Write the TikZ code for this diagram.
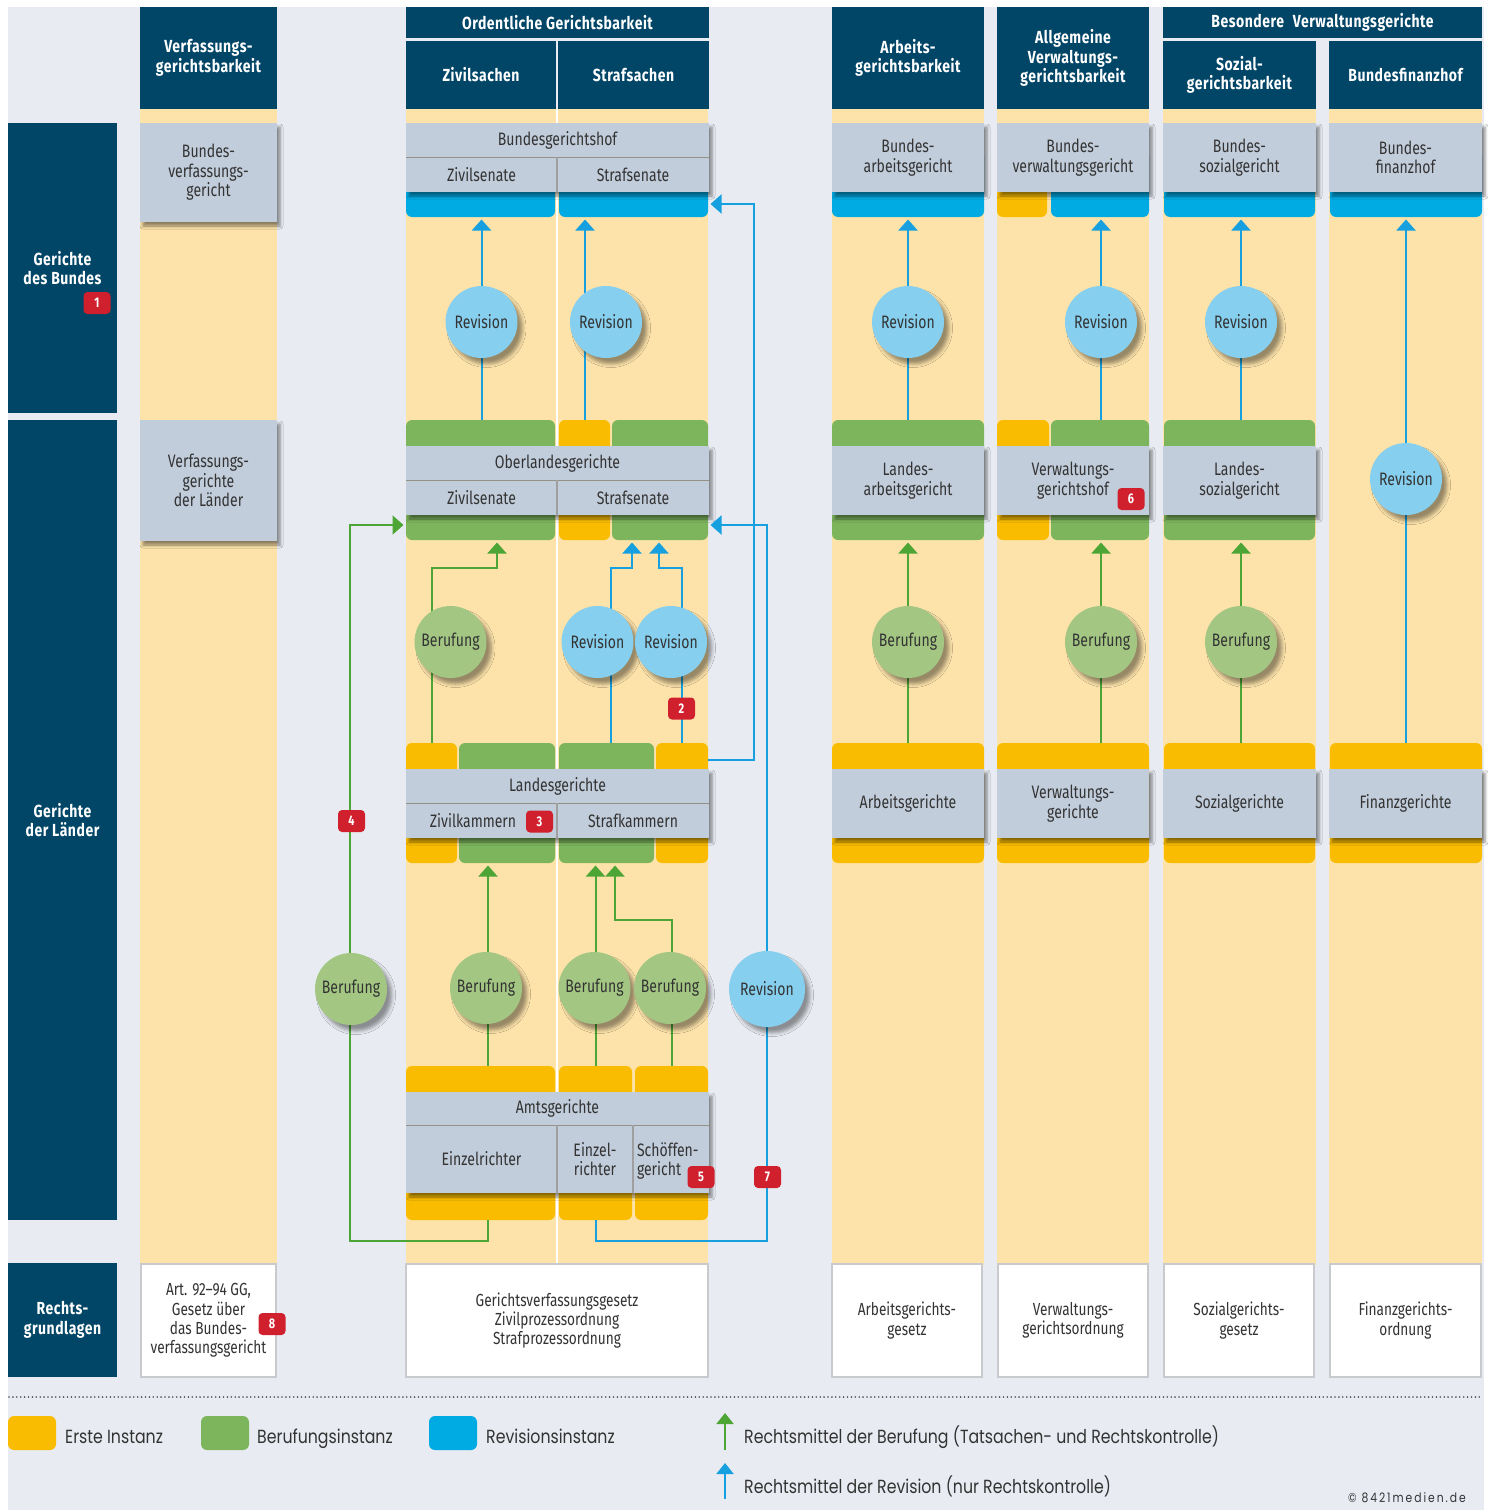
\documentclass[tikz,border=0pt]{standalone}
\usepackage{fontspec}
\setmainfont{Fira Sans}[FakeStretch=0.78]
\newfontfamily\hdrfont{Fira Sans}[FakeStretch=0.8, LetterSpace=3]
\newfontfamily\legfont{Poppins}[FakeStretch=0.83]
\usetikzlibrary{arrows.meta,shadows.blur}
\definecolor{dkblue}{RGB}{1,69,103}
\definecolor{colfill}{RGB}{253,227,170}
\definecolor{bggray}{RGB}{232,236,242}
\definecolor{boxgray}{RGB}{194,205,219}
\definecolor{yel}{RGB}{249,188,0}
\definecolor{grn}{RGB}{125,181,93}
\definecolor{blu}{RGB}{0,170,226}
\definecolor{berc}{RGB}{163,199,131}
\definecolor{revc}{RGB}{134,207,238}
\definecolor{gline}{RGB}{76,165,53}
\definecolor{bline}{RGB}{22,160,223}
\definecolor{badgered}{RGB}{208,32,46}
\definecolor{txt}{RGB}{51,51,51}
\definecolor{lawgray}{RGB}{200,202,206}
\definecolor{sepcol}{RGB}{150,145,135}
\newcommand{\Rbox}[7]{\node[#2,minimum width={(#5-#3)*1pt},minimum height={(#6-#4)*1pt}] (#1) at ({(#3+#5)/2},{(#4+#6)/2}) {#7};}
\tikzset{
 base/.style={rectangle, inner sep=0pt, outer sep=0pt},
 hdr/.style={base, fill=dkblue, text=white, align=center, font=\hdrfont\bfseries\fontsize{17.5}{19.5}\selectfont},
 col/.style={base, fill=colfill},
 bar/.style={base, rounded corners=6pt},
 ybar/.style={bar, fill=yel},
 gbar/.style={bar, fill=grn},
 bbar/.style={bar, fill=blu},
 court/.style={base, fill=boxgray, blur shadow={shadow xshift=3pt, shadow yshift=-4pt, shadow blur radius=3pt, shadow opacity=45}},
 ctext/.style={base, text=txt, align=center, font=\fontsize{18}{19.5}\selectfont},
 law/.style={base, fill=white, draw=lawgray, line width=1.5pt, text=txt, align=center, font=\fontsize{17.5}{19.3}\selectfont},
 circ/.style={circle, inner sep=0pt, minimum size=72pt, text=txt, font=\fontsize{18}{19}\selectfont, blur shadow={shadow xshift=5pt, shadow yshift=-6pt, shadow blur radius=3.5pt, shadow opacity=40}},
 ber/.style={circ, fill=berc},
 rev/.style={circ, fill=revc},
 badge/.style={base, fill=badgered, rounded corners=4pt, minimum width=27pt, minimum height=22pt, text=white, font=\bfseries\fontsize{14}{14}\selectfont},
 garrow/.style={draw=gline, line width=2pt, -{Triangle[width=19pt,length=11pt]}, shorten >=2.5pt},
 barrow/.style={draw=bline, line width=2pt, -{Triangle[width=19pt,length=11pt]}, shorten >=2.5pt},
 sepH/.style={draw=sepcol, line width=0.8pt},
 sepV/.style={draw=gray!75, line width=1.6pt},
 legtext/.style={anchor=base west, inner sep=0pt, text=txt, font=\legfont\fontsize{19}{21}\selectfont},
}
\begin{document}
\begin{tikzpicture}[x=1pt,y=-1pt]
\useasboundingbox (0,0) rectangle (1488,1510);
\fill[white] (0,0) rectangle (1488,1510);
\fill[bggray] (8,7) rectangle (1484,1510);
% columns
\Rbox{colV}{col}{140}{109}{277}{1265}{}
\Rbox{colO}{col}{406}{109}{708}{1265}{}
\draw[white, line width=2pt] (colO.north) -- (colO.south);
\Rbox{colA}{col}{832}{109}{984}{1265}{}
\Rbox{colAV}{col}{997}{109}{1149}{1265}{}
\Rbox{colS}{col}{1163}{109}{1316}{1265}{}
\Rbox{colF}{col}{1329}{109}{1482}{1265}{}
% column headers
\Rbox{hV}{hdr}{140}{7}{277}{109}{Verfassungs-\\gerichtsbarkeit}
\Rbox{hO}{hdr}{406}{7}{709}{38}{Ordentliche Gerichtsbarkeit}
\Rbox{hOZ}{hdr}{406}{41}{556}{109}{Zivilsachen}
\Rbox{hOS}{hdr}{558}{41}{709}{109}{Strafsachen}
\Rbox{hA}{hdr}{832}{7}{984}{109}{Arbeits-\\gerichtsbarkeit}
\Rbox{hAV}{hdr}{997}{7}{1149}{109}{Allgemeine\\Verwaltungs-\\gerichtsbarkeit}
\Rbox{hB}{hdr}{1163}{7}{1482}{38}{Besondere\hspace{5pt} Verwaltungsgerichte}
\Rbox{hS}{hdr}{1163}{41}{1316}{109}{Sozial-\\gerichtsbarkeit}
\Rbox{hF}{hdr}{1329}{41}{1482}{109}{Bundesfinanzhof}
% row headers
\Rbox{rB}{hdr}{8}{123}{117}{413}{Gerichte\\des Bundes}
\Rbox{rL}{hdr}{8}{420}{117}{1220}{Gerichte\\der Länder}
\Rbox{rR}{hdr}{8}{1263}{117}{1377}{Rechts-\\grundlagen}
% ---- Bund
\Rbox{bverfg}{court,ctext}{140}{123}{277}{222}{Bundes-\\verfassungs-\\gericht}
\Rbox{bghZbar}{bbar}{406}{150}{555}{217}{}
\Rbox{bghSbar}{bbar}{559}{150}{708}{217}{}
\Rbox{bgh}{court}{406}{123}{709}{192}{}
\Rbox{bghH}{ctext}{406}{123}{709}{157}{Bundesgerichtshof}
\Rbox{bghZ}{ctext}{406}{157}{557}{192}{Zivilsenate}
\Rbox{bghS}{ctext}{557}{157}{709}{192}{Strafsenate}
\draw[sepH] (bghH.south west) -- (bghH.south east);
\draw[sepV] (bghZ.north east) -- (bghZ.south east);
\Rbox{bagbar}{bbar}{832}{150}{984}{217}{}
\Rbox{bag}{court,ctext}{832}{123}{984}{192}{Bundes-\\arbeitsgericht}
\Rbox{bvwgY}{ybar}{997}{150}{1047}{217}{}
\Rbox{bvwgB}{bbar}{1051}{150}{1149}{217}{}
\Rbox{bvwg}{court,ctext}{997}{123}{1149}{192}{Bundes-\\verwaltungsgericht}
\Rbox{bsgbar}{bbar}{1164}{150}{1315}{217}{}
\Rbox{bsg}{court,ctext}{1163}{123}{1316}{192}{Bundes-\\sozialgericht}
\Rbox{bfhbar}{bbar}{1330}{150}{1482}{217}{}
\Rbox{bfh}{court,ctext}{1329}{123}{1482}{192}{Bundes-\\finanzhof}
% ---- OLG level
\Rbox{lvg}{court,ctext}{140}{420}{277}{541}{Verfassungs-\\gerichte\\der Länder}
\Rbox{olgZbar}{gbar}{406}{420}{555}{540}{}
\Rbox{olgS1}{ybar}{559}{420}{610}{540}{}
\Rbox{olgS2}{gbar}{612}{420}{708}{540}{}
\Rbox{olg}{court}{406}{446}{709}{515}{}
\Rbox{olgH}{ctext}{406}{446}{709}{480}{Oberlandesgerichte}
\Rbox{olgZ}{ctext}{406}{480}{557}{515}{Zivilsenate}
\Rbox{olgS}{ctext}{557}{480}{709}{515}{Strafsenate}
\draw[sepH] (olgH.south west) -- (olgH.south east);
\draw[sepV] (olgZ.north east) -- (olgZ.south east);
\Rbox{lagbar}{gbar}{832}{420}{984}{540}{}
\Rbox{lag}{court,ctext}{832}{446}{984}{515}{Landes-\\arbeitsgericht}
\Rbox{vghY}{ybar}{997}{420}{1049}{540}{}
\Rbox{vghG}{gbar}{1051}{420}{1149}{540}{}
\Rbox{vgh}{court,ctext}{997}{446}{1149}{515}{Verwaltungs-\\gerichtshof}
\Rbox{lsgbar}{gbar}{1164}{420}{1315}{540}{}
\Rbox{lsg}{court,ctext}{1163}{446}{1316}{515}{Landes-\\sozialgericht}
% ---- LG level
\Rbox{lgZ1}{ybar}{406}{743}{457}{863}{}
\Rbox{lgZ2}{gbar}{459}{743}{555}{863}{}
\Rbox{lgS1}{gbar}{559}{743}{654}{863}{}
\Rbox{lgS2}{ybar}{656}{743}{708}{863}{}
\Rbox{lg}{court}{406}{769}{709}{838}{}
\Rbox{lgH}{ctext}{406}{769}{709}{803}{Landesgerichte}
\Rbox{lgZ}{ctext}{406}{803}{557}{838}{}
\node[ctext] (lgZt) at (473,821) {Zivilkammern};
\Rbox{lgS}{ctext}{557}{803}{709}{838}{Strafkammern}
\draw[sepH] (lgH.south west) -- (lgH.south east);
\draw[sepV] (lgZ.north east) -- (lgZ.south east);
\Rbox{arbgbar}{ybar}{832}{743}{984}{863}{}
\Rbox{arbg}{court,ctext}{832}{769}{984}{838}{Arbeitsgerichte}
\Rbox{vgbar}{ybar}{997}{743}{1149}{863}{}
\Rbox{vg}{court,ctext}{997}{769}{1149}{838}{Verwaltungs-\\gerichte}
\Rbox{sgbar}{ybar}{1164}{743}{1315}{863}{}
\Rbox{sg}{court,ctext}{1163}{769}{1316}{838}{Sozialgerichte}
\Rbox{fgbar}{ybar}{1330}{743}{1482}{863}{}
\Rbox{fg}{court,ctext}{1329}{769}{1482}{838}{Finanzgerichte}
% ---- AG level
\Rbox{agZ}{ybar}{406}{1066}{555}{1220}{}
\Rbox{agS1}{ybar}{559}{1066}{632}{1220}{}
\Rbox{agS2}{ybar}{635}{1066}{708}{1220}{}
\Rbox{ag}{court}{406}{1092}{709}{1193}{}
\Rbox{agH}{ctext}{406}{1092}{709}{1125}{Amtsgerichte}
\Rbox{agEZ}{ctext}{406}{1125}{557}{1193}{Einzelrichter}
\Rbox{agE}{ctext}{557}{1125}{633}{1193}{Einzel-\\richter}
\Rbox{agSch}{ctext}{633}{1125}{709}{1193}{}
\node[ctext, align=left, anchor=west] (agScht) at (637,1161) {Schöffen-\\gericht};
\draw[sepH] (agH.south west) -- (agH.south east);
\draw[sepV] (agEZ.north east) -- (agEZ.south east);
\draw[sepV] (agE.north east) -- (agE.south east);
% ---- legal bases
\Rbox{rgV}{law}{141}{1264}{276}{1377}{Art. 92–94 GG,\\Gesetz über\\das Bundes-\\verfassungsgericht}
\Rbox{rgO}{law}{406}{1264}{708}{1377}{Gerichtsverfassungsgesetz\\Zivilprozessordnung\\Strafprozessordnung}
\Rbox{rgA}{law}{832}{1264}{982}{1377}{Arbeitsgerichts-\\gesetz}
\Rbox{rgAV}{law}{998}{1264}{1148}{1377}{Verwaltungs-\\gerichtsordnung}
\Rbox{rgS}{law}{1164}{1264}{1314}{1377}{Sozialgerichts-\\gesetz}
\Rbox{rgF}{law}{1330}{1264}{1481}{1377}{Finanzgerichts-\\ordnung}
% ---- coordinates of circles / bends
\coordinate (cR1) at (481.5,322);
\coordinate (cR2) at (606,322);
\coordinate (xR2) at (585,322);
\coordinate (cR3) at (908,322);
\coordinate (cR4) at (1101,322);
\coordinate (cR5) at (1241,322);
\coordinate (cR6) at (1406,479);
\coordinate (cB1) at (450.5,642);
\coordinate (cRa) at (597.5,642);
\coordinate (cRb) at (671,642);
\coordinate (cBA) at (908,642);
\coordinate (cBV) at (1101,642);
\coordinate (cBS) at (1241,642);
\coordinate (cLB) at (351,989);
\coordinate (cZB) at (486,988);
\coordinate (cSB1) at (594.5,988);
\coordinate (cSB2) at (670,988);
\coordinate (cRV) at (767,989);
\coordinate (jz) at (497,568);
\coordinate (j1a) at (611,568);
\coordinate (j1b) at (632,568);
\coordinate (j2b) at (659,568);
\coordinate (xz) at (488,900);
\coordinate (j3a) at (672,920);
\coordinate (j3b) at (615,920);
\coordinate (p1) at (488,1241);
\coordinate (p2) at (350,525);
\coordinate (p3) at (596,1241);
\coordinate (p4) at (767,525);
\coordinate (q1) at (754,760);
\coordinate (q2) at (754,204);
% ---- connectors: Revision to federal courts
\draw[barrow] (olgZbar.north -| cR1) -- (bghZbar.south -| cR1);
\draw[barrow] (olgS1.north -| xR2) -- (bghSbar.south -| xR2);
\draw[barrow] (lagbar.north -| cR3) -- (bagbar.south -| cR3);
\draw[barrow] (vghG.north -| cR4) -- (bvwgB.south -| cR4);
\draw[barrow] (lsgbar.north -| cR5) -- (bsgbar.south -| cR5);
\draw[barrow] (fgbar.north -| cR6) -- (bfhbar.south -| cR6);
% ---- connectors: LG level to OLG level
\draw[garrow] (lgZ1.north) |- (jz) -- (jz |- olgZbar.south);
\draw[barrow] (lgS1.north -| j1a) -- (j1a) -- (j1b) -- (j1b |- olgS2.south);
\draw[barrow] (lgS2.north) |- (j2b) -- (j2b |- olgS2.south);
\draw[garrow] (arbgbar.north -| cBA) -- (lagbar.south -| cBA);
\draw[garrow] (vgbar.north -| cBV) -- (vghG.south -| cBV);
\draw[garrow] (sgbar.north -| cBS) -- (lsgbar.south -| cBS);
% ---- connectors: AG level upward
\draw[garrow] (agZ.north -| xz) -- (lgZ2.south -| xz);
\draw[garrow] (agS1.north) -- (agS1.north |- lgS1.south);
\draw[garrow] (agS2.north -| j3a) -- (j3a) -- (j3b) -- (j3b |- lgS1.south);
\draw[garrow] (agZ.south -| p1) -- (p1) -| (p2) -- (olgZbar.west |- p2);
\draw[barrow] (agS1.south -| p3) -- (p3) -| (p4) -- (olgS2.east |- p4);
\draw[barrow] (lgS2.east |- q1) -- (q1) -- (q2) -- (bghSbar.east |- q2);
% ---- circles
\node[rev] (R1) at (cR1) {Revision};
\node[rev] (R2) at (cR2) {Revision};
\node[rev] (R3) at (cR3) {Revision};
\node[rev] (R4) at (cR4) {Revision};
\node[rev] (R5) at (cR5) {Revision};
\node[rev] (R6) at (cR6) {Revision};
\node[ber] (B1) at (cB1) {Berufung};
\node[rev] (Ra) at (cRa) {Revision};
\node[rev] (Rb) at (cRb) {Revision};
\node[ber] (BA) at (cBA) {Berufung};
\node[ber] (BV) at (cBV) {Berufung};
\node[ber] (BS) at (cBS) {Berufung};
\node[ber] (LB) at (cLB) {Berufung};
\node[ber] (ZB) at (cZB) {Berufung};
\node[ber] (SB1) at (cSB1) {Berufung};
\node[ber] (SB2) at (cSB2) {Berufung};
\node[rev, minimum size=76pt] (RV) at (cRV) {Revision};
% ---- badges
\node[badge] (n1) at (97,303) {1};
\node[badge] (n2) at (681.5,708.5) {2};
\node[badge] (n3) at (539.5,821.5) {3};
\node[badge] (n4) at (351.5,821) {4};
\node[badge] (n5) at (701,1177) {5};
\node[badge] (n6) at (1131,499) {6};
\node[badge] (n7) at (767.5,1177) {7};
\node[badge] (n8) at (272,1324) {8};
% ---- legend
\draw[gray!60!black, line width=1.8pt, line cap=round, dash pattern=on 0pt off 3.9pt] (9,1397) -- (1482,1397);
\Rbox{legY}{base, fill=yel, rounded corners=6pt}{8}{1416}{56}{1450}{}
\node[legtext] (legYt) at (65,1443) {Erste Instanz};
\Rbox{legG}{base, fill=grn, rounded corners=6pt}{201}{1416}{249}{1450}{}
\node[legtext] (legGt) at (257,1443) {Berufungsinstanz};
\Rbox{legB}{base, fill=blu, rounded corners=6pt}{429}{1416}{477}{1450}{}
\node[legtext] (legBt) at (486,1443) {Revisionsinstanz};
\coordinate (la1) at (725,1450);
\coordinate (la2) at (725,1413);
\coordinate (lb1) at (725,1499);
\coordinate (lb2) at (725,1463);
\draw[garrow, shorten >=0pt, -{Triangle[width=17pt,length=11pt]}] (la1) -- (la2);
\draw[barrow, shorten >=0pt, -{Triangle[width=17pt,length=11pt]}] (lb1) -- (lb2);
\node[legtext] (legAt) at (744,1443) {Rechtsmittel der Berufung (Tatsachen- und Rechtskontrolle)};
\node[legtext] (legRt) at (744,1493) {Rechtsmittel der Revision (nur Rechtskontrolle)};
\node[anchor=east, inner sep=0pt, text=txt, font=\legfont\fontsize{13}{13}\selectfont\addfontfeatures{LetterSpace=15}] (copy) at (1466,1498) {© 8421medien.de};
\end{tikzpicture}
\end{document}
